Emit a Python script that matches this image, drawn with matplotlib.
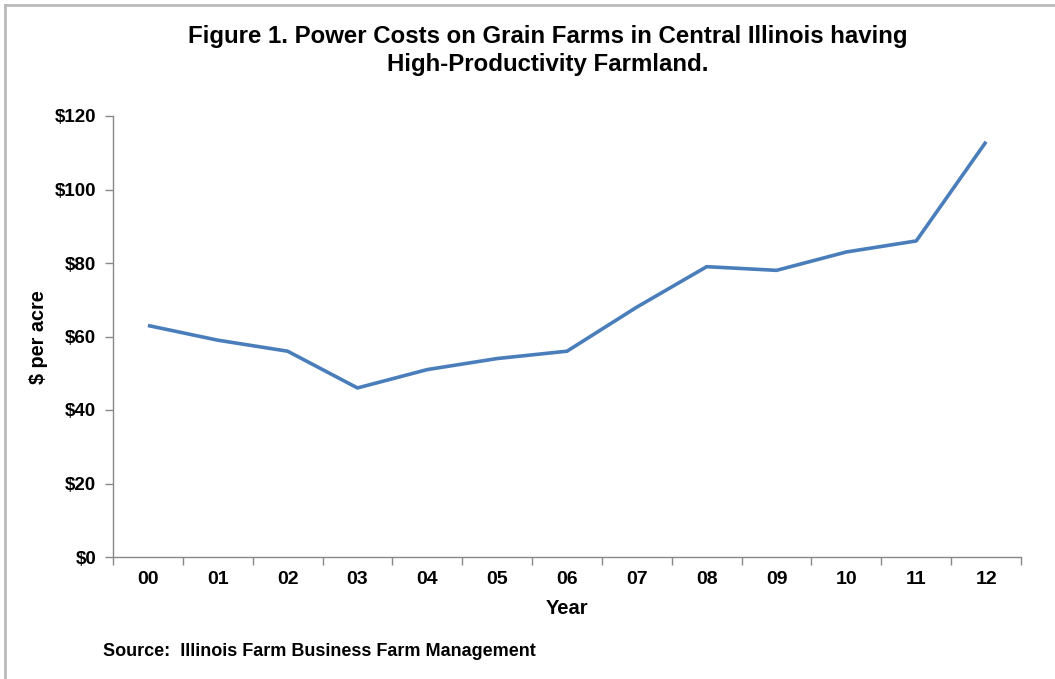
import matplotlib
matplotlib.use("Agg")
import matplotlib.pyplot as plt
from matplotlib.lines import Line2D
import numpy as np

years = ["00", "01", "02", "03", "04", "05", "06", "07", "08", "09", "10", "11", "12"]
costs = [63, 59, 56, 46, 51, 54, 56, 68, 79, 78, 83, 86, 113]
yticks = [0, 20, 40, 60, 80, 100, 120]
ytick_labels = ["$0", "$20", "$40", "$60", "$80", "$100", "$120"]

plt.rcParams['font.family'] = ['Liberation Sans', 'DejaVu Sans']

fig = plt.figure(figsize=(10.55, 6.79), dpi=100)
ax = fig.add_axes([113/1055, 1-557/679, (1021-113)/1055, (557-116)/679])

x = np.arange(len(years))
ax.plot(x, costs, color='#4a7ebb', linewidth=2.6, solid_capstyle='butt')

ax.set_xlim(-0.5, len(years) - 0.5)
ax.set_ylim(0, 120)
ax.set_yticks(yticks)
ax.set_yticklabels(ytick_labels, fontsize=13.5, fontweight='bold')
ax.set_xticks(np.arange(-0.5, len(years), 1.0))
ax.set_xticklabels([])
ax.set_xticks(x, minor=True)
ax.set_xticklabels(years, minor=True, fontsize=14, fontweight='bold')
ax.tick_params(axis='x', which='major', direction='out', length=6, color='#888888', width=1)
ax.tick_params(axis='x', which='minor', length=0, pad=10)
ax.tick_params(axis='y', direction='out', length=6, color='#888888', width=1, pad=6)

for s in ['top', 'right']:
    ax.spines[s].set_visible(False)
for s in ['left', 'bottom']:
    ax.spines[s].set_color('#888888')
    ax.spines[s].set_linewidth(1)

fig.text(548/1055, 1-37/679, "Figure 1. Power Costs on Grain Farms in Central Illinois having",
         ha='center', va='center', fontsize=17.3, fontweight='bold')
fig.text(548/1055, 1-65/679, "High-Productivity Farmland.",
         ha='center', va='center', fontsize=17.3, fontweight='bold')
fig.text(38/1055, 1-337/679, "$ per acre", rotation=90, ha='center', va='center',
         fontsize=14.3, fontweight='bold')
fig.text(567/1055, 1-608/679, "Year", ha='center', va='center', fontsize=14.5, fontweight='bold')
fig.text(103/1055, 1-651/679, "Source:  Illinois Farm Business Farm Management",
         ha='left', va='center', fontsize=13, fontweight='bold')

fig.add_artist(Line2D([4.5/1055, 4.5/1055], [0, 1-4.5/679], transform=fig.transFigure,
                      color='#bbbbbb', linewidth=2))
fig.add_artist(Line2D([4.5/1055, 1], [1-4.5/679, 1-4.5/679], transform=fig.transFigure,
                      color='#bbbbbb', linewidth=2))

fig.savefig("out.png", dpi=100)
